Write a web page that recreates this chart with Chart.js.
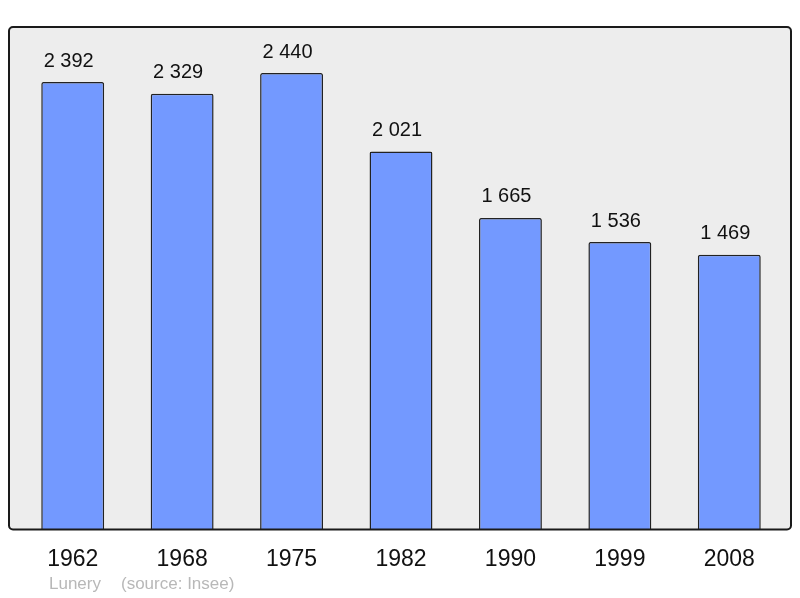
<!DOCTYPE html>
<html>
<head>
<meta charset="utf-8">
<script src="https://cdn.jsdelivr.net/npm/chart.js@4.4.1/dist/chart.umd.min.js"></script>
<style>
  html, body { margin: 0; padding: 0; background: #ffffff; }
  canvas { display: block; }
</style>
</head>
<body>
<canvas id="pop" width="800" height="598"></canvas>
<script>
// Population de Lunery (source: Insee)
var years  = ['1962', '1968', '1975', '1982', '1990', '1999', '2008'];
var values = [2392, 2329, 2440, 2021, 1665, 1536, 1469];
var yMax   = 2686;

function _fmtPop(v) {
    return String(v).replace(/\B(?=(\d{3})+(?!\d))/g, ' ');
}

// Plugin: grey panel with dark rounded border behind the bars
var panelPlugin = {
    id: 'panel',
    beforeDatasetsDraw: function(chart) {
        var ctx = chart.ctx;
        var a = chart.chartArea;
        var x = a.left - 9, y = a.top, w = (a.right + 7) - x, h = a.bottom - a.top;
        ctx.save();
        ctx.beginPath();
        ctx.roundRect(x, y, w, h, 4);
        ctx.fillStyle = '#ededed';
        ctx.fill();
        ctx.restore();
    },
    afterDatasetsDraw: function(chart) {
        var ctx = chart.ctx;
        var a = chart.chartArea;
        var x = a.left - 9, y = a.top, w = (a.right + 7) - x, h = a.bottom - a.top;
        ctx.save();
        ctx.beginPath();
        ctx.roundRect(x, y, w, h, 4);
        ctx.lineWidth = 2;
        ctx.strokeStyle = '#1a1a1a';
        ctx.stroke();

        // value labels over each bar
        var meta = chart.getDatasetMeta(0);
        ctx.fillStyle = '#111111';
        ctx.font = '20px "Liberation Sans", Arial, sans-serif';
        ctx.textAlign = 'center';
        ctx.textBaseline = 'middle';
        meta.data.forEach(function(bar, i) {
            ctx.fillText(_fmtPop(values[i]), bar.x - 4, bar.y - 21);
        });

        // footer
        ctx.fillStyle = '#b8b8b8';
        ctx.font = '17px "Liberation Sans", Arial, sans-serif';
        ctx.textAlign = 'left';
        ctx.fillText('Lunery', 49, 584);
        ctx.fillText('(source: Insee)', 121, 584);
        ctx.restore();
    }
};

new Chart(document.getElementById('pop'), {
    type: 'bar',
    data: {
        labels: years,
        datasets: [{
            data: values,
            backgroundColor: '#7399ff',
            borderColor: '#222222',
            borderWidth: 1.5,
            borderSkipped: 'bottom',
            borderRadius: 2,
            categoryPercentage: 1,
            barPercentage: 0.575,
        }],
    },
    options: {
        responsive: false,
        animation: false,
        layout: { padding: { left: 18, right: 16, top: 27, bottom: 17 } },
        plugins: {
            legend: { display: false },
            tooltip: { enabled: false },
        },
        scales: {
            y: {
                display: false,
                min: 0,
                max: yMax,
            },
            x: {
                grid: { display: false },
                border: { display: false },
                ticks: {
                    color: '#111111',
                    padding: 8,
                    font: { size: 23, family: '"Liberation Sans", Arial, sans-serif' },
                },
            },
        },
    },
    plugins: [panelPlugin],
});
</script>
</body>
</html>
